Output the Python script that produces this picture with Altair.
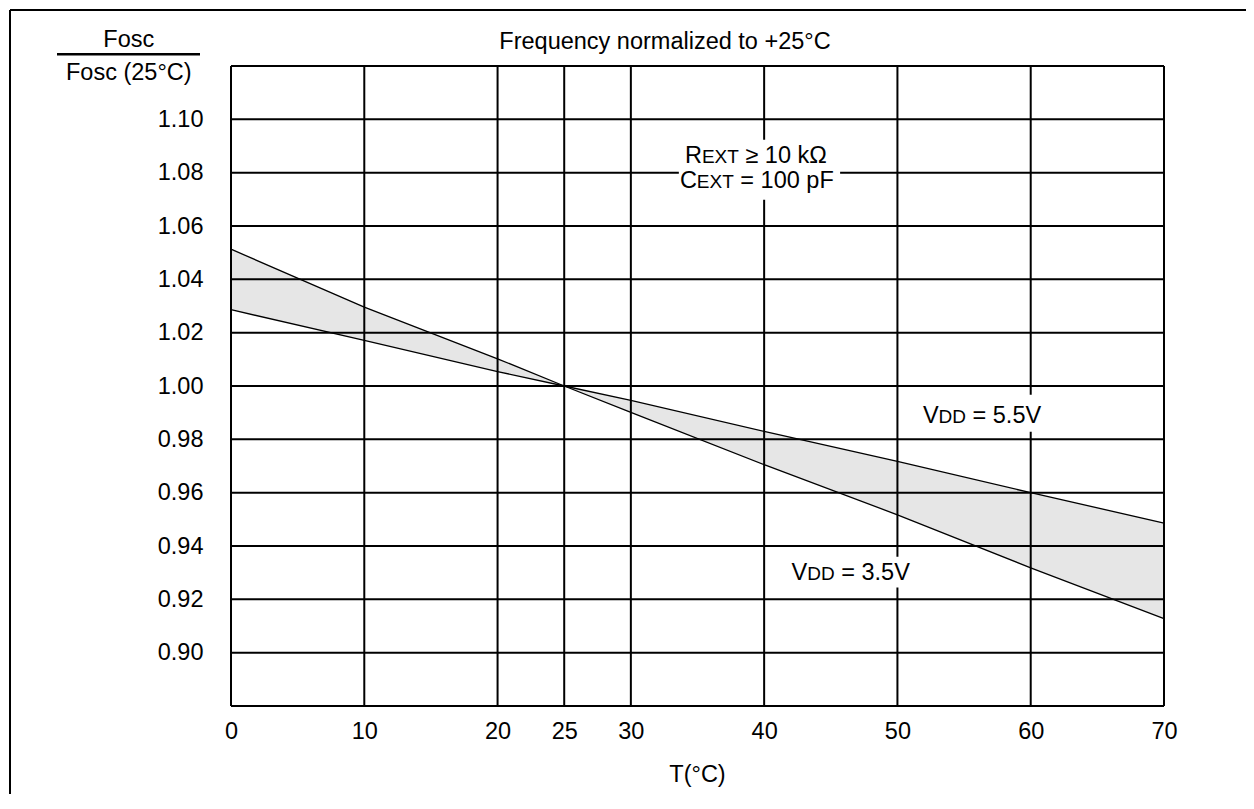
import altair as alt
import pandas as pd

# ---------------- data ----------------
T = [0, 10, 20, 25, 30, 40, 50, 60, 70]
v35 = [1.0513, 1.0296, 1.0102, 1.000, 0.9901, 0.9705, 0.9517, 0.9318, 0.9128]
v55 = [1.0286, 1.0171, 1.0054, 1.000, 0.9946, 0.9830, 0.9717, 0.9600, 0.9486]
x_ticks = [0, 10, 20, 25, 30, 40, 50, 60, 70]
y_ticks = [0.90, 0.92, 0.94, 0.96, 0.98, 1.00, 1.02, 1.04, 1.06, 1.08, 1.10]
y_grid = [0.88] + y_ticks + [1.12]

# ---------------- layout / style ----------------
FONT = "Liberation Sans"
BIG = 23.5
SMALL = 19
W, H = 933, 640
PAD = {"left": 223, "top": 58, "right": 82, "bottom": 88}

ARIAL = {"R": 722, "E": 667, "X": 667, "T": 611, " ": 278, "≥": 549, "1": 556,
         "0": 556, "k": 500, "Ω": 768, "C": 722, "=": 584, "p": 556, "F": 611,
         "V": 667, "D": 722, "3": 556, "5": 556, ".": 278}


def tw(s, size):
    return sum(ARIAL.get(c, 556) for c in s) / 1000.0 * size


ANNOT = [
    ([("R", BIG), ("EXT", SMALL), (" ≥ 10 kΩ", BIG)], 34.06, 1.0835),
    ([("C", BIG), ("EXT", SMALL), (" = 100 pF", BIG)], 33.68, 1.0742),
    ([("V", BIG), ("DD", SMALL), (" = 5.5V", BIG)], 51.91, 0.9861),
    ([("V", BIG), ("DD", SMALL), (" = 3.5V", BIG)], 42.06, 0.9271),
]
BOXES = pd.DataFrame({
    "x1": [33.6, 51.3, 41.56], "x2": [45.7, 61.3, 51.1],
    "y1": [1.0698, 0.9828, 0.9244], "y2": [1.0923, 0.9967, 0.9360],
})

df = pd.DataFrame({"T": T, "v35": v35, "v55": v55})
long = pd.concat([
    pd.DataFrame({"T": T, "value": v35, "series": "VDD = 3.5V"}),
    pd.DataFrame({"T": T, "value": v55, "series": "VDD = 5.5V"}),
])
one = pd.DataFrame({"a": [0]})

xs = alt.Scale(domain=[0, 70], nice=False, zero=False)
ys = alt.Scale(domain=[0.88, 1.12], nice=False, zero=False)

x_axis = alt.Axis(values=x_ticks, grid=False, domain=False, ticks=False, tickSize=0,
                  labelPadding=13, labelFontSize=BIG, labelFont=FONT, labelColor="black",
                  labelFlush=False, labelOverlap=False, format="d")
y_axis = alt.Axis(values=y_ticks, grid=False, domain=False, ticks=False, tickSize=0,
                  labelPadding=28, labelFontSize=BIG, labelFont=FONT, labelColor="black",
                  labelFlush=False, labelOverlap=False, format=".2f")

area = alt.Chart(df).mark_area(color="#e6e6e6", opacity=1).encode(
    x=alt.X("T:Q", scale=xs, axis=x_axis, title=None),
    y=alt.Y("v35:Q", scale=ys, axis=y_axis, title=None),
    y2="v55:Q",
)

vgrid = alt.Chart(pd.DataFrame({"g": x_ticks})).mark_rule(color="black", strokeWidth=2).encode(
    x=alt.X("g:Q", scale=xs, title=None)
)
hgrid = alt.Chart(pd.DataFrame({"g": y_grid})).mark_rule(color="black", strokeWidth=2).encode(
    y=alt.Y("g:Q", scale=ys, title=None)
)

lines = alt.Chart(long).mark_line(color="black", strokeWidth=1.3).encode(
    x=alt.X("T:Q", scale=xs, title=None),
    y=alt.Y("value:Q", scale=ys, title=None),
    detail="series:N",
)

boxes = alt.Chart(BOXES).mark_rect(color="white", opacity=1).encode(
    x=alt.X("x1:Q", scale=xs, title=None), x2="x2:Q",
    y=alt.Y("y1:Q", scale=ys, title=None), y2="y2:Q",
)

layers = [area, vgrid, hgrid, lines, boxes]

for segs, tx, ty in ANNOT:
    off = 0.0
    pdf = pd.DataFrame({"T": [tx], "v": [ty]})
    for text, size in segs:
        lead = len(text) - len(text.lstrip(" "))
        off += tw(" " * lead, size)
        t = text.strip(" ")
        layers.append(
            alt.Chart(pdf).mark_text(text=t, align="left", baseline="alphabetic", dx=off,
                                     fontSize=size, font=FONT, color="black").encode(
                x=alt.X("T:Q", scale=xs, title=None),
                y=alt.Y("v:Q", scale=ys, title=None),
            )
        )
        off += tw(t, size)


def ptext(txt, px, py, align="center", baseline="alphabetic", size=BIG):
    return alt.Chart(one).mark_text(text=txt, align=align, baseline=baseline,
                                    fontSize=size, font=FONT, color="black").encode(
        x=alt.value(px - 231), y=alt.value(py - 66)
    )


layers += [
    ptext("Frequency normalized to +25°C", 665, 49.3),
    ptext("Fosc", 128.8, 47.3),
    ptext("Fosc (25°C)", 128.8, 80),
    ptext("T(°C)", 697.5, 775, baseline="middle"),
    alt.Chart(one).mark_rule(color="black", strokeWidth=2.5).encode(
        x=alt.value(57 - 231), x2=alt.value(200 - 231), y=alt.value(54.3 - 66)
    ),
    # outer frame (top and left edges)
    alt.Chart(one).mark_rule(color="black", strokeWidth=2).encode(
        x=alt.value(10 - 231), x2=alt.value(W + PAD["right"]), y=alt.value(10 - 66)
    ),
    alt.Chart(one).mark_rule(color="black", strokeWidth=2).encode(
        x=alt.value(10 - 231), y=alt.value(10 - 66), y2=alt.value(H + PAD["bottom"])
    ),
]

chart = alt.layer(*layers).properties(
    width=W, height=H,
    autosize=alt.AutoSizeParams(type="none"),
    padding=PAD,
    background="white",
).configure_view(strokeWidth=0)

chart.save("out.html", embed_options={"renderer": "svg", "actions": False})
